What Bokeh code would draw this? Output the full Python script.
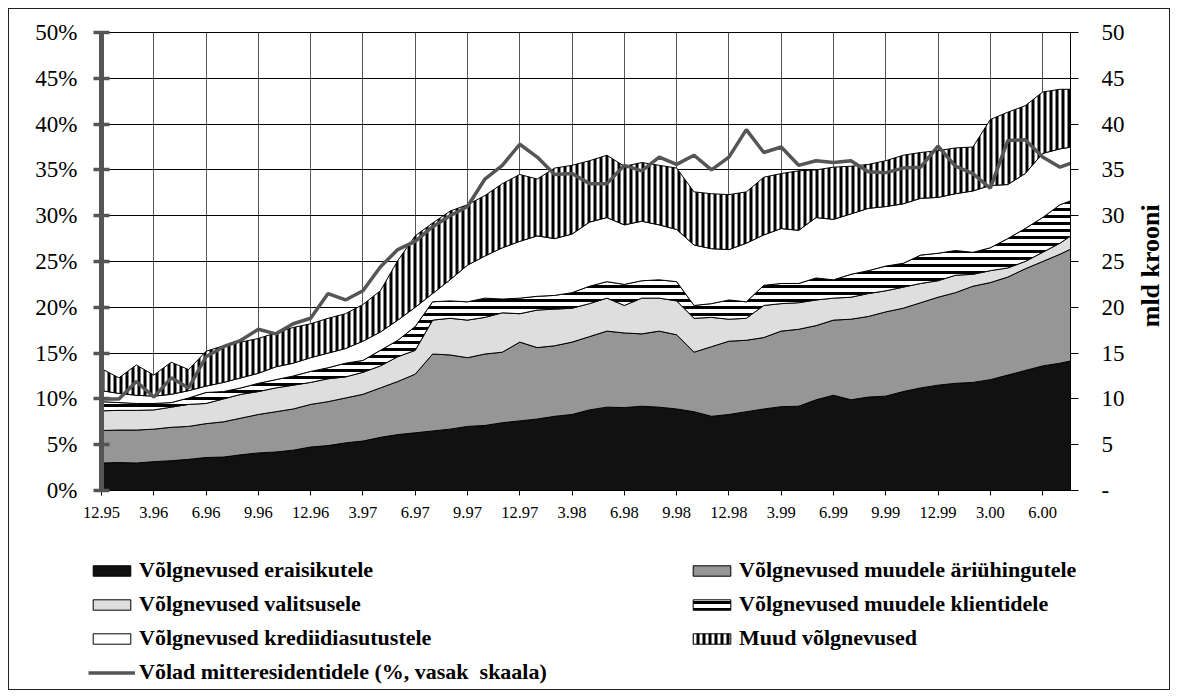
import math
import numpy as np
from bokeh.plotting import figure
from bokeh.layouts import column, row
from bokeh.models import (Range1d, LinearAxis, FixedTicker, PrintfTickFormatter,
                          Legend, LegendItem, Label)
from bokeh.embed import file_html
from bokeh.resources import INLINE

months = ["12.95",
          "1.96", "2.96", "3.96", "4.96", "5.96", "6.96", "7.96", "8.96", "9.96", "10.96", "11.96", "12.96",
          "1.97", "2.97", "3.97", "4.97", "5.97", "6.97", "7.97", "8.97", "9.97", "10.97", "11.97", "12.97",
          "1.98", "2.98", "3.98", "4.98", "5.98", "6.98", "7.98", "8.98", "9.98", "10.98", "11.98", "12.98",
          "1.99", "2.99", "3.99", "4.99", "5.99", "6.99", "7.99", "8.99", "9.99", "10.99", "11.99", "12.99",
          "1.00", "2.00", "3.00", "4.00", "5.00", "6.00", "7.00", "8.00"]

tick_labels = ["12.95", "3.96", "6.96", "9.96", "12.96", "3.97", "6.97", "9.97", "12.97",
               "3.98", "6.98", "9.98", "12.98", "3.99", "6.99", "9.99", "12.99", "3.00", "6.00"]

# mld krooni
eraisikutele = [3.0, 3.05, 3.0, 3.15, 3.25, 3.4, 3.6, 3.65, 3.9, 4.1,
                4.2, 4.4, 4.75, 4.9, 5.2, 5.4, 5.8, 6.1, 6.3, 6.5,
                6.7, 7.0, 7.1, 7.4, 7.6, 7.8, 8.1, 8.3, 8.8, 9.1,
                9.05, 9.2, 9.1, 8.9, 8.6, 8.1, 8.3, 8.6, 8.9, 9.15,
                9.2, 9.9, 10.4, 9.9, 10.2, 10.3, 10.8, 11.2, 11.5, 11.7,
                11.8, 12.1, 12.6, 13.1, 13.6, 13.9, 14.3]
ariuhingutele = [3.55, 3.55, 3.6, 3.55, 3.65, 3.6, 3.7, 3.85, 4.0, 4.2,
                 4.4, 4.5, 4.65, 4.8, 4.9, 5.1, 5.4, 5.8, 6.4, 8.4,
                 8.1, 7.5, 7.8, 7.7, 8.6, 7.8, 7.7, 7.9, 8.0, 8.3,
                 8.15, 7.9, 8.3, 8.1, 6.5, 7.6, 8.0, 7.8, 7.8, 8.25,
                 8.4, 8.1, 8.2, 8.8, 8.8, 9.2, 9.1, 9.3, 9.6, 9.9,
                 10.5, 10.6, 10.7, 11.1, 11.4, 11.9, 12.4]
valitsusele = [2.15, 2.15, 2.15, 2.1, 2.2, 2.4, 2.2, 2.5, 2.6, 2.5,
               2.6, 2.6, 2.4, 2.5, 2.3, 2.4, 2.4, 2.7, 2.6, 3.7,
               4.0, 4.1, 4.0, 4.3, 3.1, 4.1, 4.0, 3.7, 3.6, 3.6,
               3.0, 3.9, 3.6, 3.7, 3.7, 3.2, 2.4, 2.4, 3.5, 3.0,
               2.9, 2.8, 2.4, 2.4, 2.5, 2.3, 2.3, 2.1, 1.8, 1.9,
               1.3, 1.3, 1.0, 0.8, 1.0, 1.2, 1.6]
klientidele = [1.0, 0.85, 0.75, 0.7, 0.5, 0.7, 1.2, 0.8, 0.7, 0.9,
               0.9, 1.0, 1.2, 1.2, 1.5, 1.3, 1.7, 1.8, 2.6, 2.0,
               1.9, 2.0, 2.1, 1.5, 1.7, 1.5, 1.5, 1.7, 1.9, 1.8,
               2.3, 1.9, 2.0, 2.1, 1.4, 1.5, 2.1, 1.8, 2.2, 2.2,
               2.1, 2.4, 2.0, 2.5, 2.5, 2.7, 2.6, 3.1, 3.0, 2.7,
               2.4, 2.5, 3.2, 3.6, 3.8, 4.2, 3.6]
krediidiasutustele = [1.2, 1.0, 0.9, 0.8, 0.9, 0.8, 0.7, 1.0, 1.1, 1.1,
                      1.4, 1.4, 1.5, 1.6, 1.6, 2.1, 2.0, 2.2, 2.1, 0.9,
                      2.3, 4.0, 4.6, 5.6, 6.2, 6.6, 6.2, 6.4, 7.0, 7.0,
                      6.5, 6.5, 6.0, 5.7, 6.6, 6.0, 5.5, 6.4, 5.5, 6.0,
                      5.8, 6.6, 6.6, 6.6, 6.8, 6.5, 6.5, 6.2, 6.1, 6.2,
                      6.7, 6.8, 5.9, 6.0, 7.0, 6.1, 5.7]
muud = [2.4, 1.7, 3.3, 2.3, 3.5, 2.3, 3.8, 4.0, 3.9, 3.8,
        3.7, 3.9, 3.7, 3.8, 3.8, 4.0, 4.5, 6.5, 7.8, 7.7,
        7.5, 6.6, 6.6, 7.0, 7.3, 6.2, 7.7, 7.5, 6.7, 6.8,
        6.4, 6.4, 6.5, 6.7, 5.8, 6.0, 6.0, 5.6, 6.3, 6.0,
        6.5, 5.2, 5.7, 5.2, 4.8, 5.0, 5.3, 5.0, 5.1, 5.0,
        4.8, 7.2, 7.9, 7.4, 6.7, 6.5, 6.2]
# % (left scale)
volad_mitteresidentidele = [10.0, 10.0, 11.9, 10.2, 12.3, 11.2, 14.6, 15.7, 16.4, 17.6,
                            17.1, 18.2, 18.8, 21.5, 20.8, 21.8, 24.4, 26.3, 27.2, 28.8,
                            30.0, 31.0, 34.0, 35.5, 37.8, 36.4, 34.5, 34.6, 33.5, 33.5,
                            35.5, 34.9, 36.4, 35.6, 36.6, 35.0, 36.4, 39.4, 36.9, 37.5,
                            35.5, 36.0, 35.8, 36.0, 34.8, 34.7, 35.2, 35.3, 37.6, 35.4,
                            34.6, 33.0, 38.2, 38.3, 36.4, 35.3, 36.0]

n = len(months)
x = list(range(n))
tick_pos = [months.index(t) for t in tick_labels]

FONT = "Liberation Serif"

# ---------------- main chart ----------------
p = figure(width=1123, height=531, title=None,
           x_range=Range1d(0, 55.6), y_range=Range1d(0, 50),
           output_backend="svg", toolbar_location=None,
           min_border_left=92, min_border_right=62, min_border_top=23, min_border_bottom=50,
           background_fill_color="white", border_fill_color="white")
p.outline_line_color = "black"
p.outline_line_width = 1
p.extra_y_ranges = {"mld": Range1d(0, 50)}

p.xaxis.ticker = FixedTicker(ticks=tick_pos)
p.xaxis.major_label_overrides = {pos: lab for pos, lab in zip(tick_pos, tick_labels)}
p.xaxis.axis_line_color = "black"
p.xaxis.major_tick_in = 0
p.xaxis.major_tick_out = 5
p.xaxis.minor_tick_line_color = None
p.xaxis.major_label_text_font = FONT
p.xaxis.major_label_text_font_size = "16.5px"
p.xaxis.major_label_text_color = "black"
p.xaxis.major_label_standoff = 11

yt = [0, 5, 10, 15, 20, 25, 30, 35, 40, 45, 50]
p.yaxis.ticker = FixedTicker(ticks=yt)
p.yaxis.formatter = PrintfTickFormatter(format="%d%%")
p.yaxis.axis_line_color = "#555555"
p.yaxis.axis_line_width = 5
p.yaxis.major_tick_line_color = "#555555"
p.yaxis.major_tick_line_width = 3.5
p.yaxis.major_tick_in = 8
p.yaxis.major_tick_out = 8
p.yaxis.minor_tick_line_color = None
p.yaxis.major_label_text_font = FONT
p.yaxis.major_label_text_font_size = "23px"
p.yaxis.major_label_text_color = "black"
p.yaxis.major_label_standoff = 16

raxis = LinearAxis(y_range_name="mld", ticker=FixedTicker(ticks=yt),
                   major_label_overrides={0: "-"})
raxis.axis_line_color = "black"
raxis.major_tick_in = 0
raxis.major_tick_out = 8
raxis.minor_tick_line_color = None
raxis.major_label_text_font = FONT
raxis.major_label_text_font_size = "23px"
raxis.major_label_text_color = "black"
raxis.major_label_standoff = 23
p.add_layout(raxis, "right")

p.xgrid.ticker = FixedTicker(ticks=tick_pos)
p.xgrid.grid_line_color = "#555555"
p.xgrid.grid_line_width = 1
p.ygrid.ticker = FixedTicker(ticks=yt)
p.ygrid.grid_line_color = "black"
p.ygrid.grid_line_width = 1

layers = [
    ("Võlgnevused eraisikutele", eraisikutele, dict(fill_color="#111111")),
    ("Võlgnevused muudele äriühingutele", ariuhingutele, dict(fill_color="#969696")),
    ("Võlgnevused valitsusele", valitsusele, dict(fill_color="#dedede")),
    ("Võlgnevused muudele klientidele", klientidele,
     dict(fill_color="white", hatch_pattern="horizontal_line", hatch_color="black",
          hatch_scale=7, hatch_weight=3)),
    ("Võlgnevused krediidiasutustele", krediidiasutustele, dict(fill_color="white")),
    ("Muud võlgnevused", muud,
     dict(fill_color="white", hatch_pattern="vertical_line", hatch_color="black",
          hatch_scale=6, hatch_weight=3)),
]

bottom = np.zeros(n)
for name, vals, style in layers:
    top = bottom + np.array(vals)
    xs = x + x[::-1]
    ys = list(top) + list(bottom[::-1])
    p.patch(xs, ys, line_color="black", line_width=1, y_range_name="mld", **style)
    bottom = top

LINE_COLOR = "#555555"
line_name = "Võlad mitteresidentidele (%, vasak  skaala)"
p.line(x, volad_mitteresidentidele, line_color=LINE_COLOR, line_width=3.5)

# ---------------- right-side unit label ----------------
p_side = figure(width=37, height=531, title=None, output_backend="svg", toolbar_location=None,
                x_axis_location=None, y_axis_location=None, min_border=0,
                x_range=Range1d(0, 1), y_range=Range1d(0, 1),
                background_fill_color="white", border_fill_color="white")
p_side.grid.visible = False
p_side.outline_line_color = None
p_side.add_layout(Label(x=18, y=228, x_units="screen", y_units="screen", text="mld  krooni",
                        angle=math.pi / 2, text_align="center", text_baseline="middle",
                        text_font=FONT, text_font_style="bold", text_font_size="26px",
                        text_color="black"))

# ---------------- legend panel ----------------
p_leg = figure(width=1160, height=149, title=None, output_backend="svg", toolbar_location=None,
               x_axis_location=None, y_axis_location=None, min_border=0,
               x_range=Range1d(0, 1), y_range=Range1d(0, 1),
               background_fill_color="white", border_fill_color="white")
p_leg.grid.visible = False
p_leg.outline_line_color = None

NAN = [float("nan")]
leg_r = {}
for name, vals, style in layers:
    leg_r[name] = p_leg.patch(NAN, NAN, line_color="black", line_width=1, **style)
leg_r[line_name] = p_leg.line(NAN, NAN, line_color=LINE_COLOR, line_width=3.5)

common = dict(label_text_font=FONT, label_text_font_style="bold", label_text_font_size="22px",
              label_text_color="black",
              glyph_width=47, glyph_height=13, label_standoff=4, spacing=8, padding=0, margin=0,
              border_line_color=None, background_fill_alpha=0, label_height=26)

left_items = ["Võlgnevused eraisikutele", "Võlgnevused valitsusele",
              "Võlgnevused krediidiasutustele", line_name]
right_items = ["Võlgnevused muudele äriühingutele", "Võlgnevused muudele klientidele",
               "Muud võlgnevused"]

leg1 = Legend(items=[LegendItem(label=k, renderers=[leg_r[k]]) for k in left_items],
              location=(79, 4), **common)
leg2 = Legend(items=[LegendItem(label=k, renderers=[leg_r[k]]) for k in right_items],
              location=(679, 38), **common)
p_leg.add_layout(leg1)
p_leg.add_layout(leg2)

layout = column(row(p, p_side), p_leg)
layout.styles = {"border": "1px solid #222222", "margin": "8px 0 0 8px"}

open("out.html", "w").write(file_html(layout, INLINE))
